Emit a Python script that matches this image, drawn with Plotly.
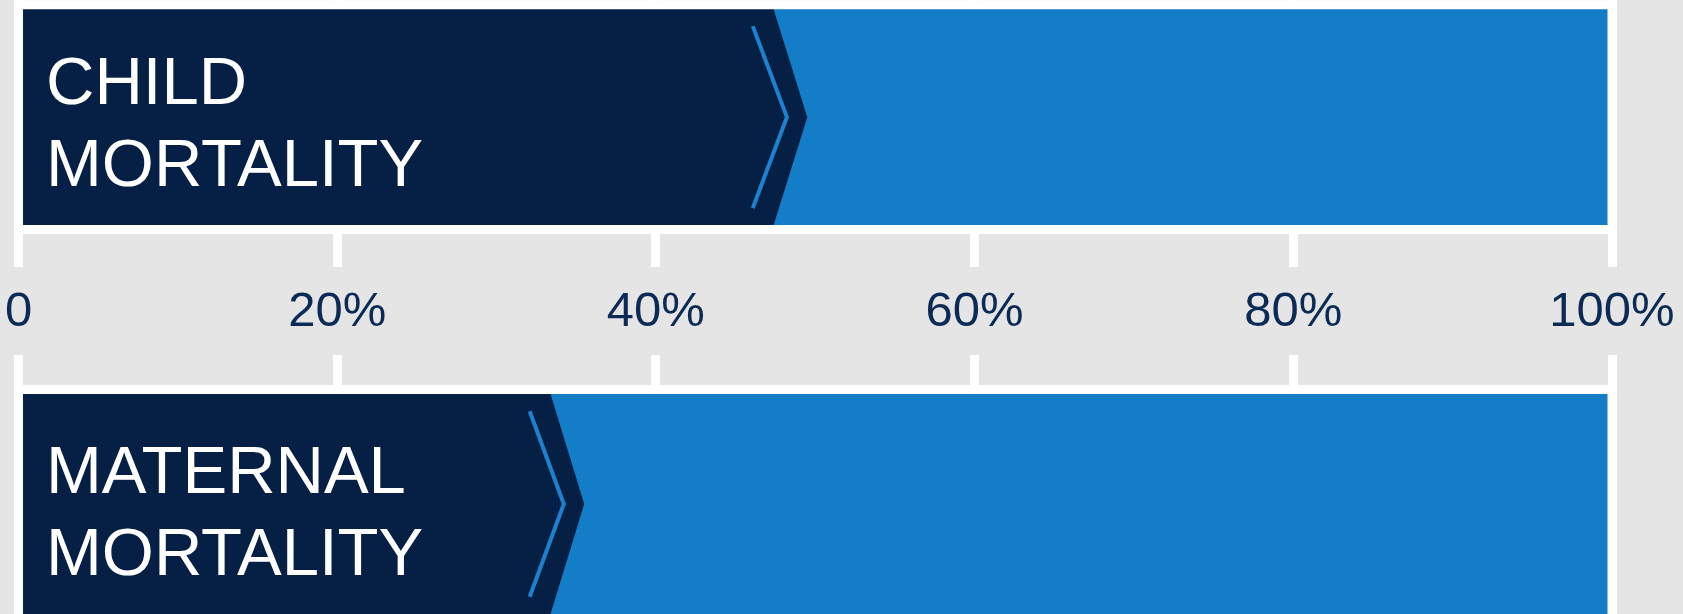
import plotly.graph_objects as go

# ---- data ----
categories = ["CHILD MORTALITY", "MATERNAL MORTALITY"]
share = [49.5, 35.5]          # percent (position of chevron tip)
total = [100, 100]
tick_values = [0, 20, 40, 60, 80, 100]
tick_labels = ["0", "20%", "40%", "60%", "80%", "100%"]

# ---- style ----
NAVY = "#051f45"
BLUE = "#137dc8"
LINE_BLUE = "#1a82d0"
BG = "#e5e5e5"
TICK_COL = "#0b2a55"
FONT = "Liberation Sans, Arial, sans-serif"
DEPTH = 2.2          # chevron depth (x units)
W = 1683
H = 614

fig = go.Figure()

axes = [("x", "y"), ("x2", "y2")]
for i, (cat, v, tot) in enumerate(zip(categories, share, total)):
    xa, ya = axes[i]
    edge = v - DEPTH
    fig.add_trace(go.Bar(
        x=[edge], y=[0], base=[0], width=[1], orientation="h",
        marker=dict(color=NAVY, line=dict(width=0)),
        xaxis=xa, yaxis=ya, showlegend=False, hoverinfo="skip"))
    fig.add_trace(go.Bar(
        x=[tot - edge], y=[0], base=[edge], width=[1], orientation="h",
        marker=dict(color=BLUE, line=dict(width=0)),
        xaxis=xa, yaxis=ya, showlegend=False, hoverinfo="skip"))
    # chevron tip of the dark segment (overlaps bar a little to hide seam)
    fig.add_shape(type="path", xref=xa, yref=ya, layer="above",
                  path=(f"M {edge-0.3},0.5 L {edge},0.5 L {v},0 "
                        f"L {edge},-0.5 L {edge-0.3},-0.5 Z"),
                  fillcolor=NAVY, line=dict(width=0))
    # thin light chevron inside the dark segment
    fig.add_shape(type="path", xref=xa, yref=ya, layer="above",
                  path=f"M {v-3.42},0.405 L {v-1.28},0 L {v-3.42},-0.405",
                  line=dict(color=LINE_BLUE, width=4))
    # white frame around bar
    fig.add_shape(type="rect", xref=xa, yref=ya, layer="above",
                  x0=0, x1=tot, y0=-0.5, y1=0.5,
                  line=dict(color="white", width=9), fillcolor="rgba(0,0,0,0)")
    # label (two lines)
    lines = cat.split(" ")
    for j, (ln, ys) in enumerate(zip(lines, [37, -45])):
        fig.add_annotation(x=0, y=0, xref=xa, yref=ya, text=ln,
                           xanchor="left", yanchor="middle", xshift=25.5,
                           yshift=ys + (-2 if i == 1 else 0),
                           showarrow=False,
                           font=dict(family=FONT, size=67, color="white"))

# x range so that 0 -> 18.5px and 100 -> 1612px
k = (1612 - 18.5) / 100.0
r0 = -18.5 / k
r1 = r0 + W / k

xcommon = dict(range=[r0, r1], tickvals=tick_values, showgrid=True,
               gridcolor="white", gridwidth=9, zeroline=False, showline=False)

fig.update_layout(
    width=W, height=H,
    margin=dict(l=0, r=0, t=0, b=0),
    paper_bgcolor=BG, plot_bgcolor="rgba(0,0,0,0)",
    barmode="overlay",
    xaxis=dict(**xcommon, domain=[0, 1], anchor="y", ticktext=tick_labels,
               showticklabels=True, ticks="",
               ticklabelstandoff=9,
               tickfont=dict(family=FONT, size=49, color=TICK_COL)),
    xaxis2=dict(**xcommon, domain=[0, 1], anchor="y2", matches="x",
                showticklabels=False),
    yaxis=dict(domain=[1 - 266.7 / H, 1], range=[-0.6655, 0.5214],
               showgrid=False, zeroline=False, showticklabels=False),
    yaxis2=dict(domain=[0, 259.0 / H], range=[-0.4803, 0.6507],
                showgrid=False, zeroline=False, showticklabels=False),
)

fig.write_html("out.html",
               config={"displayModeBar": False},
               post_script="document.body.style.margin='0px';"
                           "document.body.style.overflow='hidden';")
